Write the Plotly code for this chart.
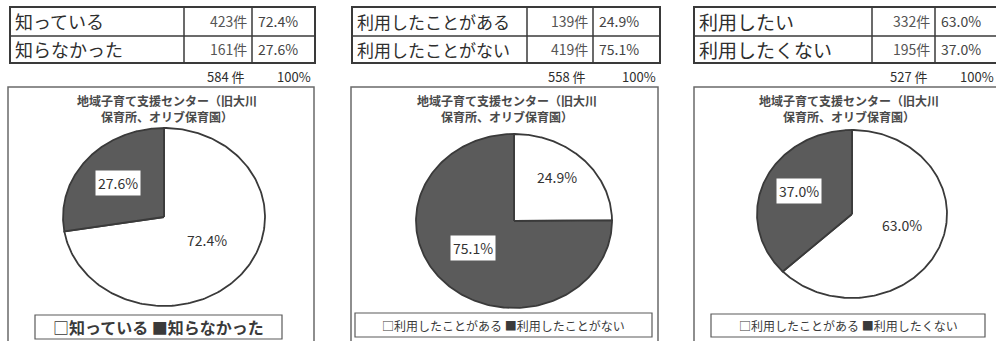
import numpy as np
import plotly.graph_objects as go

W, H = 996, 341

# Survey answers, one block per question
labels_q1 = ["知っている", "知らなかった"]
counts_q1 = [423, 161]
pcts_q1 = [72.4, 27.6]
total_q1 = 584

labels_q2 = ["利用したことがある", "利用したことがない"]
counts_q2 = [139, 419]
pcts_q2 = [24.9, 75.1]
total_q2 = 558

labels_q3 = ["利用したい", "利用したくない"]
counts_q3 = [332, 195]
pcts_q3 = [63.0, 37.0]
total_q3 = 527

legend_q1 = "□知っている ■知らなかった"
legend_q2 = "□利用したことがある ■利用したことがない"
legend_q3 = "□利用したことがある ■利用したくない"

chart_title = "地域子育て支援センター（旧大川<br>保育所、オリブ保育園）"

FONT = "Noto Sans CJK JP"
LINE = "#3a3a3a"
DARK = "#5b5b5b"
TEXT = "#2e2e2e"
SLICE_COLORS = ["#ffffff", DARK]

# Page geometry of each panel (pixels)
panels = [
    dict(labels=labels_q1, counts=counts_q1, pcts=pcts_q1, total=total_q1, legend=legend_q1,
         cols=[10, 184, 252, 315], box=[8, 314], pie=(164, 217, 101, 89), title_x=167,
         legend_box=[35, 282, 315, 339], legend_size=16, legend_bold=True, label_size=18,
         label_pos=[(0.43, -0.26), (-0.46, 0.38)]),
    dict(labels=labels_q2, counts=counts_q2, pcts=pcts_q2, total=total_q2, legend=legend_q2,
         cols=[352, 527, 593, 660], box=[351, 658], pie=(514, 221, 98, 87), title_x=507,
         legend_box=[355, 652, 313, 337], legend_size=12, legend_bold=False, label_size=17,
         label_pos=[(0.44, 0.51), (-0.42, -0.31)]),
    dict(labels=labels_q3, counts=counts_q3, pcts=pcts_q3, total=total_q3, legend=legend_q3,
         cols=[694, 872, 935, 1004], box=[694, 1004], pie=(852, 214, 95, 84), title_x=849,
         legend_box=[711, 985, 314, 337], legend_size=12, legend_bold=False, label_size=19,
         label_pos=[(0.53, -0.13), (-0.56, 0.27)]),
]

ROWS = [7, 36, 63]


def px(x):
    return x / W


def py(y):
    return 1 - y / H


fig = go.Figure()
shapes = []
annotations = []
PAD = 1.03

for i, p in enumerate(panels):
    ax = "" if i == 0 else str(i + 1)
    c0, c1, c2, c3 = p["cols"]

    # Summary table: outer frame and grid
    shapes.append(dict(type="rect", xref="paper", yref="paper",
                       x0=px(c0), x1=px(c3), y0=py(ROWS[0]), y1=py(ROWS[2]),
                       line=dict(color=LINE, width=2)))
    for cx in (c1, c2):
        shapes.append(dict(type="line", xref="paper", yref="paper",
                           x0=px(cx), x1=px(cx), y0=py(ROWS[0]), y1=py(ROWS[2]),
                           line=dict(color=LINE, width=1.5)))
    shapes.append(dict(type="line", xref="paper", yref="paper",
                       x0=px(c0), x1=px(c3), y0=py(ROWS[1]), y1=py(ROWS[1]),
                       line=dict(color=LINE, width=1.5)))

    for r, (lab, cnt, pct) in enumerate(zip(p["labels"], p["counts"], p["pcts"])):
        yc = py((ROWS[r] + ROWS[r + 1]) / 2)
        annotations.append(dict(x=px(c0 + 3), y=yc, xref="paper", yref="paper", text=lab,
                                showarrow=False, xanchor="left", yanchor="middle",
                                font=dict(family=FONT, size=p["label_size"], color=TEXT)))
        annotations.append(dict(x=px(c2 - 3), y=yc, xref="paper", yref="paper", text=f"{cnt}件",
                                showarrow=False, xanchor="right", yanchor="middle",
                                font=dict(family=FONT, size=14, color="#555555")))
        annotations.append(dict(x=px(c2 + 4), y=yc, xref="paper", yref="paper", text=f"{pct:.1f}%",
                                showarrow=False, xanchor="left", yanchor="middle",
                                font=dict(family=FONT, size=14, color="#444444")))

    annotations.append(dict(x=px(c2 - 5), y=py(76), xref="paper", yref="paper", text=f"{p['total']} 件",
                            showarrow=False, xanchor="right", yanchor="middle",
                            font=dict(family=FONT, size=13, color=TEXT)))
    annotations.append(dict(x=px(min(c3, 998) - 2), y=py(76), xref="paper", yref="paper", text="100%",
                            showarrow=False, xanchor="right", yanchor="middle",
                            font=dict(family=FONT, size=13, color=TEXT)))

    # Chart frame
    b0, b1 = p["box"]
    shapes.append(dict(type="rect", xref="paper", yref="paper",
                       x0=px(b0), x1=px(b1), y0=py(360), y1=py(87),
                       line=dict(color="#6a6a6a", width=1.5)))

    annotations.append(dict(x=px(p["title_x"]), y=py(109), xref="paper", yref="paper",
                            text=f"<b>{chart_title}</b>", showarrow=False, xanchor="center",
                            yanchor="middle",
                            font=dict(family=FONT, size=12, color="#4a4a4a")))

    # Legend box
    l0, l1, lt, lb = p["legend_box"]
    shapes.append(dict(type="rect", xref="paper", yref="paper",
                       x0=px(l0), x1=px(l1), y0=py(lb), y1=py(lt),
                       line=dict(color="#5a5a5a", width=1.2)))
    leg_text = f"<b>{p['legend']}</b>" if p["legend_bold"] else p["legend"]
    annotations.append(dict(x=px((l0 + l1) / 2), y=py((lt + lb) / 2), xref="paper", yref="paper",
                            text=leg_text, showarrow=False, xanchor="center", yanchor="middle",
                            font=dict(family=FONT, size=p["legend_size"], color="#3a3a3a")))

    # Elliptical pie: slices clockwise from 12 o'clock on a stretched unit axis
    cxp, cyp, rx, ry = p["pie"]
    fig.update_layout(**{
        f"xaxis{ax}": dict(domain=[px(cxp - rx * PAD), px(cxp + rx * PAD)], range=[-PAD, PAD],
                           visible=False, fixedrange=True),
        f"yaxis{ax}": dict(domain=[py(cyp + ry * PAD), py(cyp - ry * PAD)], range=[-PAD, PAD],
                           visible=False, fixedrange=True),
    })
    shares = np.array(p["pcts"]) / 100.0
    edges = np.concatenate([[0.0], np.cumsum(shares)]) * 2 * np.pi
    for k in range(len(shares)):
        th = np.linspace(edges[k], edges[k + 1], 200)
        xs = np.concatenate([[0.0], np.sin(th), [0.0]])
        ys = np.concatenate([[0.0], np.cos(th), [0.0]])
        fig.add_trace(go.Scatter(x=xs, y=ys, mode="lines", fill="toself",
                                 fillcolor=SLICE_COLORS[k], line=dict(color=LINE, width=1.8),
                                 hoverinfo="skip", showlegend=False,
                                 xaxis=f"x{ax}", yaxis=f"y{ax}"))
        lx, ly = p["label_pos"][k]
        boxed = SLICE_COLORS[k] != "#ffffff"
        annotations.append(dict(x=lx, y=ly, xref=f"x{ax}", yref=f"y{ax}", text=f"{p['pcts'][k]:.1f}%",
                                showarrow=False, xanchor="center", yanchor="middle",
                                bgcolor="#ffffff" if boxed else "rgba(0,0,0,0)",
                                borderpad=2,
                                font=dict(family=FONT, size=14, color="#333333")))

fig.update_layout(
    width=W, height=H,
    margin=dict(l=0, r=0, t=0, b=0),
    paper_bgcolor="#ffffff", plot_bgcolor="rgba(0,0,0,0)",
    shapes=shapes, annotations=annotations,
    showlegend=False,
)

fig.write_html("out.html", config={"displayModeBar": False})
